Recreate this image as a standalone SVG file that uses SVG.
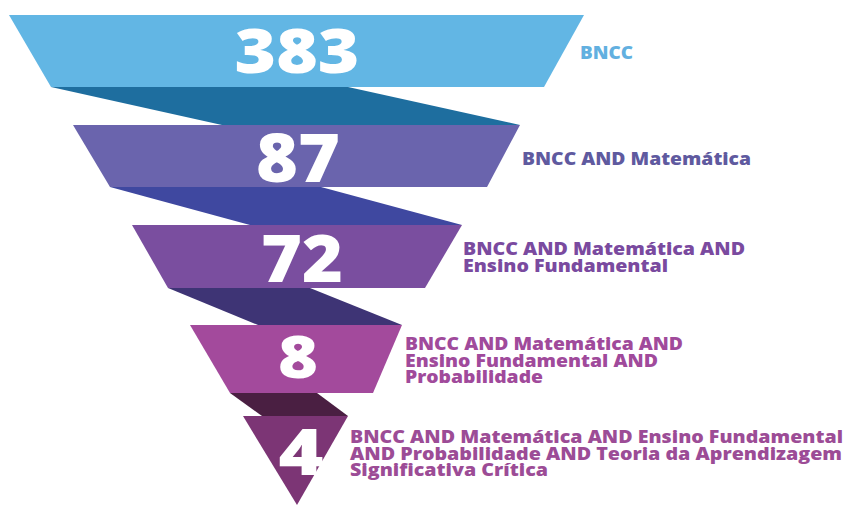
<svg xmlns="http://www.w3.org/2000/svg" width="847" height="505" viewBox="0 0 847 505">
<style>
.num{font-family:"Open Sans","Lato","Liberation Sans",sans-serif;font-weight:800;fill:#ffffff;text-anchor:middle}
.lbl{font-family:"Open Sans","Lato","Liberation Sans",sans-serif;font-weight:800;font-size:17px}
</style>
<rect width="847" height="505" fill="#ffffff"/>
<g id="connectors">
<polygon points="51,87 348,87 520,125 222,125" fill="#1e6e9f"/>
<polygon points="110,187 321,187 462,225 250,225" fill="#3f48a0"/>
<polygon points="168,288 310,288 402,325 258,325" fill="#3e3475"/>
<polygon points="230,393 317,393 348,416 262,416" fill="#4a1f42"/>
</g>
<g id="level1">
<polygon points="9,15 584,15 544,87 51,87" fill="#62b6e4"/>
<text class="num" x="297" y="73" font-size="62" textLength="125" lengthAdjust="spacingAndGlyphs">383</text>
<text class="lbl" x="580" y="59" fill="#62b0e0" textLength="53" lengthAdjust="spacingAndGlyphs">BNCC</text>
</g>
<g id="level2">
<polygon points="73,125 520,125 487,187 110,187" fill="#6a64ad"/>
<text class="num" x="298" y="182" font-size="68" textLength="84" lengthAdjust="spacingAndGlyphs">87</text>
<text class="lbl" x="522" y="165" fill="#5f5a9f" textLength="229" lengthAdjust="spacingAndGlyphs">BNCC AND Matemática</text>
</g>
<g id="level3">
<polygon points="132,225 462,225 425,288 168,288" fill="#7a4e9f"/>
<text class="num" x="302" y="282" font-size="66" textLength="82" lengthAdjust="spacingAndGlyphs">72</text>
<text class="lbl" x="463" y="255" fill="#7a4a9f" textLength="282" lengthAdjust="spacingAndGlyphs">BNCC AND Matemática AND</text>
<text class="lbl" x="463" y="272" fill="#7a4a9f" textLength="205" lengthAdjust="spacingAndGlyphs">Ensino Fundamental</text>
</g>
<g id="level4">
<polygon points="190,325 402,325 373,393 230,393" fill="#a34a9c"/>
<text class="num" x="298" y="378" font-size="58" textLength="40" lengthAdjust="spacingAndGlyphs">8</text>
<text class="lbl" x="405" y="350" fill="#a04a9b" textLength="278" lengthAdjust="spacingAndGlyphs">BNCC AND Matemática AND</text>
<text class="lbl" x="405" y="367" fill="#a04a9b" textLength="253" lengthAdjust="spacingAndGlyphs">Ensino Fundamental AND</text>
<text class="lbl" x="405" y="383" fill="#a04a9b" textLength="138" lengthAdjust="spacingAndGlyphs">Probabilidade</text>
</g>
<g id="level5">
<polygon points="243,416 348,416 297,505" fill="#7c3575"/>
<text class="num" x="301" y="475" font-size="63" textLength="45" lengthAdjust="spacingAndGlyphs">4</text>
<text class="lbl" x="350" y="443" fill="#9c4c96" textLength="493" lengthAdjust="spacingAndGlyphs">BNCC AND Matemática AND Ensino Fundamental</text>
<text class="lbl" x="350" y="460" fill="#9c4c96" textLength="492" lengthAdjust="spacingAndGlyphs">AND Probabilidade AND Teoria da Aprendizagem</text>
<text class="lbl" x="350" y="476" fill="#9c4c96" textLength="198" lengthAdjust="spacingAndGlyphs">Significativa Crítica</text>
</g>
</svg>
